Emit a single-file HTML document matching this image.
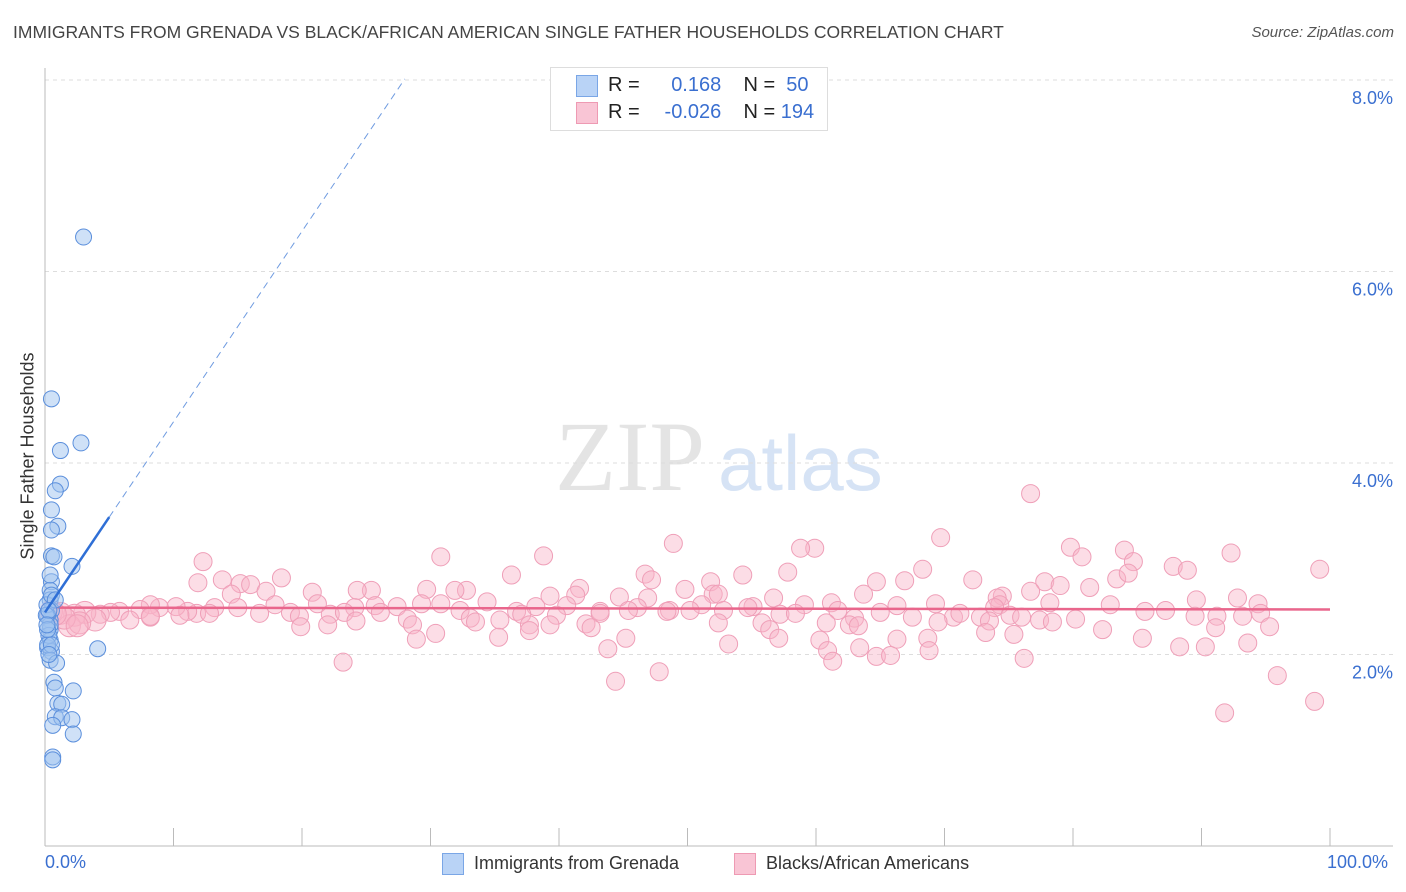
<!DOCTYPE html>
<html><head><meta charset="utf-8">
<style>
body{margin:0;background:#fff;}
#wrap{position:relative;width:1406px;height:892px;overflow:hidden;font-family:"Liberation Sans",sans-serif;}
.t{position:absolute;white-space:nowrap;}
</style></head>
<body>
<div id="wrap">
<div class="t" style="left:13px;top:22px;font-size:17.5px;color:#444;">IMMIGRANTS FROM GRENADA VS BLACK/AFRICAN AMERICAN SINGLE FATHER HOUSEHOLDS CORRELATION CHART</div>
<div class="t" style="right:12px;top:24px;font-size:15px;color:#555;font-style:italic;">Source: ZipAtlas.com</div>
<div class="t" style="left:28px;top:456px;font-size:18px;color:#333;transform:translate(-50%,-50%) rotate(-90deg);">Single Father Households</div>
<svg id="plot" width="1406" height="892" style="position:absolute;left:0;top:0">
<text x="555" y="490" font-family="Liberation Serif,serif" font-size="100" fill="#e4e4e4">ZIP</text>
<text x="718" y="490" font-family="Liberation Sans,sans-serif" font-size="78" fill="#d6e3f5">atlas</text>
</svg>
<div class="t" style="left:550px;top:67px;width:276px;height:62px;border:1px solid #ddd;background:#fff;"></div>
<div class="t" style="left:576px;top:75px;width:20px;height:20px;background:#b9d3f6;border:1px solid #7aa6e6;"></div>
<div class="t" style="left:576px;top:102px;width:20px;height:20px;background:#f9c5d5;border:1px solid #ee9ab3;"></div>
<div class="t" style="left:608px;top:74px;font-size:20px;color:#222;">R = <span style="color:#3a6fd0;display:inline-block;width:76px;text-align:right">0.168</span>&nbsp;&nbsp;&nbsp; N = <span style="color:#3a6fd0;">&nbsp;50</span></div>
<div class="t" style="left:608px;top:101px;font-size:20px;color:#222;">R = <span style="color:#3a6fd0;display:inline-block;width:76px;text-align:right">-0.026</span>&nbsp;&nbsp;&nbsp; N = <span style="color:#3a6fd0;">194</span></div>
<div class="t" style="left:45px;top:852px;font-size:18px;color:#3a6fd0;">0.0%</div>
<div class="t" style="left:1327px;top:852px;font-size:18px;color:#3a6fd0;">100.0%</div>
<div class="t" style="left:442px;top:853px;width:20px;height:20px;background:#b9d3f6;border:1px solid #7aa6e6;"></div>
<div class="t" style="left:474px;top:853px;font-size:18px;color:#333;">Immigrants from Grenada</div>
<div class="t" style="left:734px;top:853px;width:20px;height:20px;background:#f9c5d5;border:1px solid #ee9ab3;"></div>
<div class="t" style="left:766px;top:853px;font-size:18px;color:#333;">Blacks/African Americans</div>
</div>
<script>
const yTicks=[2,4,6,8];
const yTickLabels=["2.0%","4.0%","6.0%","8.0%"];
const xTicks=[0,10,20,30,40,50,60,70,80,90,100];
const blueX=[3.0,0.5,1.2,2.8,1.2,0.8,0.5,1.0,0.5,0.5,0.7,2.1,0.5,0.4,0.4,0.5,0.4,0.4,0.4,0.2,0.5,4.1,0.4,0.9,0.7,0.8,2.2,1.0,1.3,0.8,1.3,2.1,0.6,2.2,0.6,0.6,0.2,0.4,0.15,0.3,0.2,0.5,0.4,0.8,0.1,0.2,0.3,0.15,0.5,0.3];
const blueY=[6.36,4.67,4.13,4.21,3.78,3.71,3.51,3.34,3.30,3.03,3.02,2.92,2.76,2.67,2.57,2.46,2.36,2.26,2.15,2.07,2.03,2.06,1.94,1.91,1.71,1.65,1.62,1.49,1.48,1.35,1.34,1.32,1.26,1.17,0.93,0.90,2.41,2.31,2.52,2.20,2.10,2.62,2.83,2.57,2.41,2.26,2.46,2.31,2.10,2.00];
const pinkX=[76.7,69.7,48.9,38.8,30.8,79.8,84.0,92.3,59.9,58.8,80.7,84.7,99.2,87.8,88.9,12.3,18.4,13.8,11.9,15.2,16.0,36.3,46.7,47.2,54.3,57.8,68.3,64.7,66.9,72.2,77.8,83.4,84.3,81.3,76.7,51.8,49.8,52.0,41.6,41.3,32.8,31.9,29.7,25.4,24.3,20.8,17.2,14.5,39.3,44.7,46.9,52.4,56.7,63.7,74.5,79.0,74.1,89.6,92.8,94.4,78.2,82.9,74.3,73.9,69.3,66.3,61.2,59.1,55.1,51.1,48.6,46.1,43.2,40.6,38.2,36.7,34.4,32.3,30.8,29.3,27.4,25.7,24.1,21.2,19.1,17.9,15.0,13.2,11.8,11.1,10.2,8.9,8.2,7.4,5.8,5.1,4.3,3.1,2.3,1.2,3.9,6.6,8.2,10.5,12.8,16.7,19.8,22.2,23.3,26.1,28.2,33.1,35.4,37.1,39.8,42.1,43.2,45.4,48.4,50.2,52.8,54.7,57.2,58.4,61.7,63.0,65.0,67.5,70.7,71.2,72.8,75.1,77.4,80.2,85.6,87.2,89.5,91.2,93.2,94.6,19.9,22.0,24.2,28.6,33.5,37.7,39.3,42.5,52.4,55.8,56.4,60.8,62.6,63.3,69.5,73.5,78.4,82.3,91.1,95.3,76.0,23.2,30.4,28.9,35.3,37.7,45.2,53.2,57.1,60.3,66.3,68.7,73.2,75.4,85.4,88.3,90.3,93.6,43.8,60.9,63.4,64.7,65.8,68.8,76.2,61.3,47.8,44.4,95.9,91.8,98.8,1.9,2.7,8.2,0.5,1.5,2.5,0.8];
const pinkY=[3.68,3.22,3.16,3.03,3.02,3.12,3.09,3.06,3.11,3.11,3.02,2.97,2.89,2.92,2.88,2.97,2.80,2.78,2.75,2.74,2.73,2.83,2.84,2.78,2.83,2.86,2.89,2.76,2.77,2.78,2.76,2.79,2.85,2.70,2.66,2.76,2.68,2.63,2.69,2.62,2.67,2.67,2.68,2.67,2.67,2.65,2.66,2.63,2.61,2.60,2.59,2.63,2.59,2.63,2.61,2.72,2.59,2.57,2.59,2.53,2.54,2.52,2.52,2.49,2.53,2.51,2.54,2.52,2.50,2.52,2.46,2.49,2.45,2.51,2.50,2.45,2.55,2.46,2.53,2.53,2.50,2.51,2.49,2.53,2.44,2.52,2.49,2.49,2.43,2.45,2.50,2.49,2.52,2.47,2.45,2.44,2.42,2.44,2.41,2.43,2.36,2.36,2.39,2.41,2.43,2.43,2.40,2.42,2.44,2.44,2.37,2.38,2.36,2.42,2.41,2.32,2.43,2.46,2.45,2.46,2.46,2.49,2.42,2.43,2.46,2.38,2.44,2.39,2.39,2.43,2.39,2.41,2.36,2.37,2.45,2.46,2.40,2.40,2.40,2.43,2.29,2.31,2.35,2.31,2.34,2.31,2.31,2.28,2.33,2.33,2.26,2.33,2.31,2.30,2.34,2.35,2.34,2.26,2.28,2.29,2.39,1.92,2.22,2.16,2.18,2.25,2.17,2.11,2.17,2.15,2.16,2.17,2.23,2.21,2.17,2.08,2.08,2.12,2.06,2.04,2.07,1.98,1.99,2.04,1.96,1.93,1.82,1.72,1.78,1.39,1.51,2.30,2.33,2.40,2.45,2.38,2.30,2.42];
const NS="http://www.w3.org/2000/svg";
const svg=document.getElementById('plot');
const X0=45,X1=1330,YT=80,YB=846;
function sx(v){return X0+(X1-X0)*v/100;}
function sy(v){return YB-(YB-YT)*v/8;}
function mk(tag,attrs){const e=document.createElementNS(NS,tag);for(const k in attrs)e.setAttribute(k,attrs[k]);svg.appendChild(e);return e;}
yTicks.forEach((t,i)=>{
  const g=mk('line',{x1:X0,x2:1393,y1:sy(t),y2:sy(t),stroke:'#ddd','stroke-dasharray':'4,4'});
  
  
  const l=mk('text',{x:1393,y:sy(t)+24,'text-anchor':'end','font-size':18,fill:'#3a6fd0','font-family':'Liberation Sans,sans-serif'});
  l.textContent=yTickLabels[i];
  
  
});
const ax=mk('line',{x1:X0,x2:X0,y1:68,y2:YB,stroke:'#bbb'});


const bx=mk('line',{x1:X0,x2:1393,y1:YB,y2:YB,stroke:'#bbb'});


xTicks.forEach(t=>{
  const k=mk('line',{x1:sx(t),x2:sx(t),y1:828,y2:YB,stroke:'#bbb'});
  
  
});
pinkX.forEach((x,i)=>{
  const c=mk('circle',{cx:sx(x),cy:sy(pinkY[i]),r:(x<4?11:9),fill:'rgba(248,180,200,0.45)',stroke:'#ef9fb8','stroke-width':1});
  
  
});
const pl=mk('line',{x1:sx(0),x2:sx(100),y1:sy(2.49),y2:sy(2.47),stroke:'#e9668c','stroke-width':2.5});


blueX.forEach((x,i)=>{
  const c=mk('circle',{cx:sx(x),cy:sy(blueY[i]),r:8,fill:'rgba(160,196,240,0.5)',stroke:'#5b8fdc','stroke-width':1});
  
  
});
const b0=2.44,bs=0.199;
const bl=mk('line',{x1:sx(0),y1:sy(b0),x2:sx(5),y2:sy(b0+bs*5),stroke:'#2f6fd6','stroke-width':2.5});


const bd=mk('line',{x1:sx(5),y1:sy(b0+bs*5),x2:sx(28),y2:sy(b0+bs*28),stroke:'#6f9be0','stroke-width':1,'stroke-dasharray':'7,5'});


</script>
</body></html>
